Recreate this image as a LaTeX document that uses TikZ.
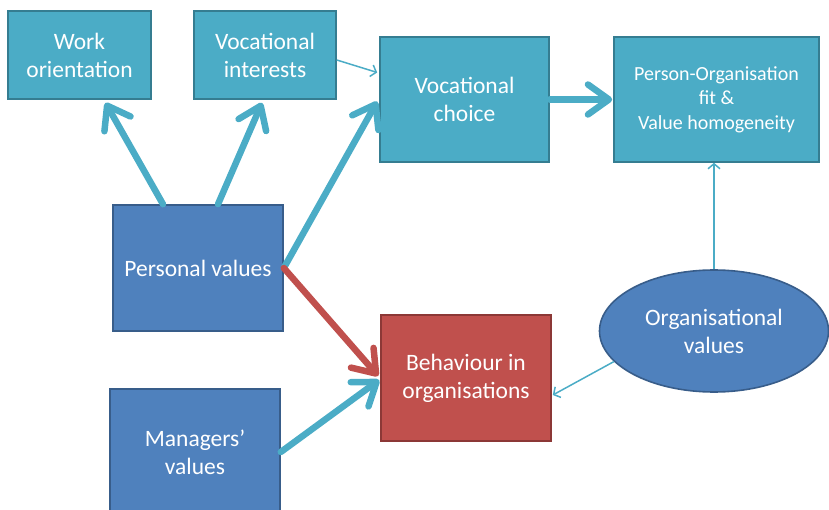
\documentclass[tikz,border=0pt]{standalone}
\usepackage{fontspec}
\setmainfont{Carlito}
\usetikzlibrary{arrows.meta,shapes.geometric}
\definecolor{aquaFill}{HTML}{4BACC6}
\definecolor{aquaLine}{HTML}{357D91}
\definecolor{blueFill}{HTML}{4F81BD}
\definecolor{blueLine}{HTML}{385D8A}
\definecolor{redFill}{HTML}{C0504D}
\definecolor{redLine}{HTML}{8C3836}
\tikzset{
  box/.style={rectangle, draw, line width=1.6pt, text=white, align=center,
    inner sep=0pt, font=\fontsize{23.5}{28}\selectfont},
  aquabox/.style={box, fill=aquaFill, draw=aquaLine},
  bluebox/.style={box, fill=blueFill, draw=blueLine},
  redbox/.style={box, fill=redFill, draw=redLine},
  thickarrow/.style={line width=6.5pt, line cap=round, draw=aquaFill,
    -{Straight Barb[round, length=21pt, width=30pt]}},
  redarrow/.style={thickarrow, draw=redFill},
  thinarrow/.style={line width=1.5pt, draw=aquaFill,
    -{Straight Barb[length=5pt, width=12pt]}}
}
\begin{document}
\begin{tikzpicture}[x=1pt,y=-1pt]
\useasboundingbox (0,0) rectangle (829,510);
\clip (0,0) rectangle (829,510);

% boxes of the model
\node[aquabox, minimum width=143pt, minimum height=88pt] (wo) at (79.5,55) {Work\\orientation};
\node[aquabox, minimum width=142pt, minimum height=88pt] (vi) at (265,55) {Vocational\\interests};
\node[aquabox, minimum width=169pt, minimum height=125pt] (vc) at (464.5,99.5) {Vocational\\choice};
\node[aquabox, minimum width=205pt, minimum height=125pt,
      font=\fontsize{20}{24.5}\selectfont] (po) at (716.5,99.5)
      {Person-Organisation\\fit \&\\Value homogeneity};
\node[bluebox, minimum width=170pt, minimum height=126pt] (pv) at (198,268) {Personal values};
\node[bluebox, minimum width=170pt, minimum height=126pt] (mv) at (195,452) {Managers’\\values};
\node[redbox, minimum width=170pt, minimum height=126pt] (bh) at (466,378) {Behaviour in\\organisations};
\node[ellipse, fill=blueFill, draw=blueLine, line width=1.6pt, text=white, align=center,
      inner sep=0pt, minimum width=229pt, minimum height=122pt,
      font=\fontsize{23.5}{28}\selectfont] (ov) at (714,331) {Organisational\\values};

% influences (shifts are in page points, positive yshift = upwards)
\draw[thickarrow] ([xshift=-35pt]pv.north) -- ([xshift=26pt,yshift=-3pt]wo.south);
\draw[thickarrow] ([xshift=20pt]pv.north) -- ([xshift=-3pt,yshift=-3pt]vi.south);
\draw[thickarrow] (pv.east) -- ([xshift=-2pt,yshift=-2pt]vc.west);
\draw[thinarrow] ([yshift=-5pt]vi.east) -- ([xshift=-2pt,yshift=27pt]vc.west);
\draw[thickarrow] (vc.east) -- ([xshift=-1pt]po.west);
\draw[thinarrow] (ov.north) -- (ov.north |- po.south);
\draw[redarrow] (pv.east) -- ([xshift=-2pt,yshift=2pt]bh.west);
\draw[thickarrow] (mv.east) -- ([xshift=-1pt,yshift=-2pt]bh.west);
\draw[thinarrow] (ov.197) -- ([xshift=1pt,yshift=-17pt]bh.east);
\end{tikzpicture}
\end{document}
